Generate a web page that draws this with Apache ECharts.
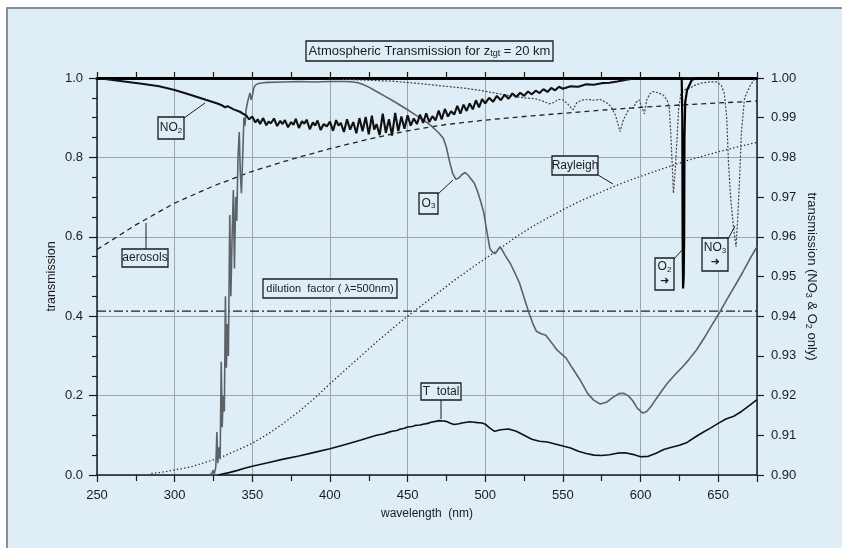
<!DOCTYPE html>
<html>
<head>
<meta charset="utf-8">
<script src="https://cdn.jsdelivr.net/npm/echarts/dist/echarts.min.js"></script>
<style>
  html, body { margin: 0; padding: 0; background: #ffffff; }
  #chart { width: 842px; height: 548px; }
</style>
</head>
<body>
<div id="chart"></div>
<script>
// ---- wavelength axis ticks (nm) and transmission ticks ----
const xTicks = [250, 300, 350, 400, 450, 500, 550, 600, 650];
const leftTicks = [0.0, 0.2, 0.4, 0.6, 0.8, 1.0];
const rightTicks = [0.90, 0.91, 0.92, 0.93, 0.94, 0.95, 0.96, 0.97, 0.98, 0.99, 1.00];

// ---- ozone transmission (left axis) [nm, T] ----
const ozone = [
  [322, 0.0], [324, 0.004], [324.8, 0.012], [325.5, 0.003], [326.5, 0.02], [327.2, 0.108],
  [327.8, 0.03], [328.5, 0.07], [329.3, 0.04], [330, 0.285], [330.6, 0.12], [331.3, 0.20],
  [332, 0.16], [332.7, 0.45], [333.3, 0.27], [334, 0.38], [334.6, 0.30], [335.5, 0.655],
  [336.2, 0.45], [337, 0.60], [337.8, 0.718], [338.5, 0.52], [339.3, 0.70], [340, 0.64],
  [340.8, 0.80], [341.6, 0.864], [342.3, 0.76], [343, 0.71], [343.8, 0.80], [344.6, 0.90],
  [345.3, 0.88], [346, 0.92], [347, 0.94], [348, 0.955], [348.5, 0.962], [349.3, 0.945],
  [350, 0.955], [351, 0.975], [352, 0.982], [354, 0.986], [357, 0.988], [360, 0.989],
  [370, 0.990], [380, 0.991], [390, 0.990], [400, 0.991], [410, 0.991], [415, 0.990],
  [418, 0.988], [421, 0.984], [425, 0.977], [430, 0.966], [435, 0.955], [440, 0.944],
  [445, 0.932], [450, 0.920], [455, 0.907], [460, 0.895], [465, 0.880], [470, 0.862],
  [473, 0.848], [475, 0.825], [477, 0.790], [479, 0.760], [481, 0.745], [483, 0.748],
  [485, 0.757], [487, 0.762], [489, 0.755], [491, 0.745], [493, 0.735], [495, 0.715],
  [497, 0.690], [499, 0.662], [501, 0.615], [503, 0.570], [505, 0.560], [506.5, 0.558],
  [508, 0.566], [509.5, 0.575], [511, 0.566], [513, 0.552], [516, 0.534], [519, 0.510],
  [522, 0.484], [525, 0.447], [528, 0.410], [531, 0.378], [533, 0.362], [536, 0.356],
  [539, 0.352], [542, 0.337], [546, 0.316], [549, 0.305], [552, 0.295], [556, 0.270],
  [561, 0.240], [566, 0.205], [570, 0.188], [574, 0.179], [578, 0.183], [582, 0.195],
  [586, 0.205], [589, 0.206], [592, 0.200], [595, 0.187], [598, 0.168], [601.5, 0.156],
  [604, 0.160], [607, 0.174], [611, 0.197], [617, 0.230], [622, 0.252], [627, 0.272],
  [631, 0.290], [636, 0.315], [641, 0.345], [646, 0.378], [651, 0.410], [656, 0.445],
  [661, 0.478], [666, 0.512], [671, 0.548], [675, 0.575]
];

// ---- aerosol extinction transmission (left axis) ----
const aerosols = [
  [250, 0.568], [275, 0.630], [300, 0.685], [325, 0.728], [350, 0.765], [375, 0.795],
  [400, 0.822], [425, 0.846], [450, 0.867], [475, 0.883], [500, 0.894], [525, 0.903],
  [550, 0.911], [575, 0.919], [600, 0.926], [625, 0.932], [650, 0.937], [675, 0.942]
];

// ---- Rayleigh scattering transmission (left axis) ----
const rayleigh = [
  [285, 0.004], [290, 0.006], [295, 0.009], [300, 0.013], [310, 0.020], [320, 0.032],
  [330, 0.045], [340, 0.062], [350, 0.080], [360, 0.103], [370, 0.130], [380, 0.160],
  [390, 0.193], [400, 0.230], [410, 0.265], [420, 0.300], [430, 0.335], [440, 0.368],
  [450, 0.400], [460, 0.430], [470, 0.460], [480, 0.490], [490, 0.518], [500, 0.545],
  [510, 0.572], [520, 0.600], [530, 0.625], [540, 0.647], [550, 0.668], [560, 0.688],
  [570, 0.705], [580, 0.722], [590, 0.738], [600, 0.752], [610, 0.766], [620, 0.779],
  [630, 0.792], [640, 0.803], [650, 0.814], [660, 0.824], [675, 0.838]
];

// ---- total transmission (left axis) ----
const tTotal = [
  [328, 0.0], [330, 0.002], [335, 0.006], [340, 0.011], [345, 0.017], [350, 0.022],
  [360, 0.031], [370, 0.040], [380, 0.048], [390, 0.057], [400, 0.066], [410, 0.077],
  [420, 0.088], [430, 0.100], [435, 0.104], [438, 0.108], [440, 0.110], [443, 0.112],
  [445, 0.115], [448, 0.118], [450, 0.121], [453, 0.122], [455, 0.125], [458, 0.126],
  [460, 0.128], [463, 0.130], [465, 0.133], [468, 0.135], [470, 0.137], [473, 0.136],
  [475, 0.135], [478, 0.130], [480, 0.127], [483, 0.129], [485, 0.131], [488, 0.133],
  [490, 0.134], [493, 0.133], [495, 0.132], [498, 0.131], [500, 0.128], [503, 0.118],
  [506, 0.110], [510, 0.114], [515, 0.116], [520, 0.110], [525, 0.100], [530, 0.090],
  [535, 0.085], [540, 0.083], [545, 0.078], [550, 0.073], [555, 0.068], [560, 0.060],
  [565, 0.054], [570, 0.050], [575, 0.049], [580, 0.051], [585, 0.055], [590, 0.056],
  [595, 0.052], [600, 0.046], [605, 0.047], [610, 0.055], [615, 0.064], [620, 0.070],
  [625, 0.075], [630, 0.082], [635, 0.095], [640, 0.107], [645, 0.118], [650, 0.130],
  [655, 0.141], [660, 0.148], [665, 0.160], [670, 0.175], [675, 0.190]
];

// ---- dilution factor at 500 nm (left axis, constant) ----
const dilutionFactor = 0.413;

// ---- NO2 transmission (right axis) ----
const no2 = [
  [250, 1.0000], [260, 0.9995], [270, 0.9990], [280, 0.9985], [290, 0.9979], [300, 0.9970],
  [310, 0.9958], [320, 0.9945], [328, 0.9935], [331, 0.9930], [332.5, 0.9926], [334, 0.9929],
  [338, 0.9921], [342, 0.9915], [344, 0.9910], [346, 0.9906], [348, 0.9896], [350, 0.9903],
  [352, 0.9888], [353.5, 0.9896], [355, 0.9884], [357, 0.9899], [359, 0.9881], [360.5, 0.9890],
  [362, 0.9886], [364, 0.9898], [366, 0.9879], [368, 0.9892], [369.5, 0.9884], [371, 0.9894],
  [373, 0.9876], [375, 0.9889], [376.5, 0.9882], [378, 0.9897], [380, 0.9874], [382, 0.9891],
  [383.5, 0.9885], [385, 0.9895], [387, 0.9871], [389, 0.9888], [390.5, 0.9880], [392, 0.9893],
  [394, 0.9869], [396, 0.9884], [398, 0.9878], [400, 0.9890], [402, 0.9867], [404, 0.9894],
  [405.5, 0.9880], [407, 0.9887], [409, 0.9864], [411, 0.9896], [413, 0.9870], [415, 0.9889],
  [417, 0.9861], [419, 0.9899], [421, 0.9866], [423, 0.9902], [425, 0.9858], [427, 0.9905],
  [428.5, 0.9870], [430, 0.9884], [432, 0.9856], [434, 0.9910], [436, 0.9862], [438, 0.9896],
  [440, 0.9855], [442, 0.9912], [444, 0.9866], [446, 0.9903], [448, 0.9872], [450, 0.9906],
  [452, 0.9880], [454, 0.9898], [456, 0.9884], [458, 0.9908], [460, 0.9887], [462, 0.9911],
  [464, 0.9889], [466, 0.9904], [468, 0.9893], [470, 0.9918], [472, 0.9896], [474, 0.9922],
  [476, 0.9903], [478, 0.9916], [480, 0.9908], [482, 0.9930], [484, 0.9910], [486, 0.9933],
  [488, 0.9917], [490, 0.9936], [492, 0.9921], [494, 0.9944], [496, 0.9926], [498, 0.9947],
  [500, 0.9936], [502.5, 0.9950], [505, 0.9940], [507.5, 0.9955], [510, 0.9944], [512.5, 0.9958],
  [515, 0.9948], [517.5, 0.9961], [520, 0.9952], [522.5, 0.9963], [525, 0.9955], [527.5, 0.9966],
  [530, 0.9959], [532.5, 0.9968], [535, 0.9962], [537.5, 0.9972], [540, 0.9965], [542.5, 0.9975],
  [545, 0.9969], [547.5, 0.9978], [550, 0.9973], [555, 0.9979], [560, 0.9978], [565, 0.9984],
  [570, 0.9983], [575, 0.9987], [580, 0.9988], [585, 0.9991], [590, 0.9995], [595, 0.9998],
  [600, 1.0000], [675, 1.0000]
];

// ---- O2 transmission (right axis) ----
const o2 = [
  [250, 1.0], [626.5, 1.0], [626.9, 0.990], [627.1, 0.960], [627.4, 0.947], [627.8, 0.950],
  [628.1, 0.960], [628.3, 0.985], [628.8, 0.994], [630, 0.997], [633, 0.9995], [636, 1.0],
  [675, 1.0]
];

// ---- NO3 transmission (right axis) ----
const no3 = [
  [380, 1.0000], [400, 0.9998], [420, 0.9995], [440, 0.9992], [455, 0.9987], [470, 0.9981],
  [485, 0.9975], [495, 0.9970], [505, 0.9963], [515, 0.9956], [525, 0.9950], [532, 0.9948],
  [537, 0.9942], [541, 0.9935], [544, 0.9938], [547, 0.9946], [550, 0.9945], [553, 0.9935],
  [556.5, 0.9920], [559, 0.9938], [562, 0.9944], [566, 0.9946], [570, 0.9944], [574, 0.9946],
  [578, 0.9938], [581, 0.9928], [584, 0.9905], [586.8, 0.9865], [589, 0.9895], [591, 0.9910],
  [593, 0.9925], [595.5, 0.9925], [597, 0.9938], [599, 0.9945], [601, 0.9925], [602.5, 0.9910],
  [604, 0.9945], [606, 0.9960], [608, 0.9966], [611, 0.9963], [614.6, 0.9957], [617, 0.9945],
  [618.5, 0.9925], [619.5, 0.9860], [620.3, 0.9790], [621.2, 0.9710], [622.2, 0.9760],
  [623.2, 0.9826], [624.5, 0.9920], [626, 0.9960], [629, 0.9972], [632, 0.9975], [635, 0.9982],
  [639, 0.9987], [644, 0.9990], [649, 0.9990], [652, 0.9982], [654, 0.9960], [655.5, 0.9900],
  [656.6, 0.9790], [658, 0.9700], [659.8, 0.9625], [661.5, 0.9575], [662.5, 0.9640],
  [663.5, 0.9720], [665, 0.9865], [667, 0.9950], [670.5, 0.9980], [673, 0.9995], [675, 1.0000]
];

const FONT = "'Liberation Sans', Arial, Helvetica, sans-serif";
const BG = '#deedf6';
const INK = '#1c1c1c';
const GRIDC = '#9ba6ad';

const chart = echarts.init(document.getElementById('chart'), null, { renderer: 'canvas' });

const xBase = {
  type: 'value',
  min: xTicks[0],
  max: 675,
  interval: xTicks[1] - xTicks[0],
  axisLine: { show: true, lineStyle: { color: INK, width: 1.5 } },
  axisTick: { show: true, inside: false, length: 7, lineStyle: { color: INK, width: 1.2 } },
  minorTick: { show: true, splitNumber: 2, length: 6, lineStyle: { color: INK, width: 1.2 } },
  splitLine: { show: false },
  minorSplitLine: { show: false }
};

// helpers for the boxed callouts
function box(x, y, w, h) {
  return { type: 'rect', shape: { x: x, y: y, width: w, height: h },
    style: { fill: BG, stroke: INK, lineWidth: 1.3 }, z: 100 };
}
function leader(x1, y1, x2, y2) {
  return { type: 'line', shape: { x1: x1, y1: y1, x2: x2, y2: y2 },
    style: { stroke: INK, lineWidth: 1 }, z: 100 };
}
function label(x, y, text, size, rich) {
  return { type: 'text', x: x, y: y, z: 101,
    style: { text: text, fill: INK, fontSize: size, fontFamily: FONT,
      textAlign: 'center', textVerticalAlign: 'middle', align: 'center', verticalAlign: 'middle',
      rich: rich || {} } };
}
function arrow(x, y) {
  return { type: 'text', x: x, y: y, z: 101,
    style: { text: '\u279C', fill: INK, fontSize: 11, fontWeight: 'bold', fontFamily: "'DejaVu Sans', sans-serif",
      textAlign: 'center', textVerticalAlign: 'middle', align: 'center', verticalAlign: 'middle' } };
}
const subRich = function (size) {
  return {
    a: { fontSize: size, fontFamily: FONT, color: INK },
    s: { fontSize: Math.round(size * 0.68), fontFamily: FONT, color: INK, padding: [Math.round(size * 0.45), 0, 0, 0] }
  };
};

const option = {
  animation: false,
  backgroundColor: BG,
  grid: { left: 97, right: 85, top: 78, bottom: 73, containLabel: false },
  xAxis: [
    Object.assign({}, xBase, {
      position: 'bottom',
      name: 'wavelength  (nm)',
      nameLocation: 'middle',
      nameGap: 33,
      nameTextStyle: { fontSize: 12, fontFamily: FONT, color: INK },
      axisLabel: { show: true, margin: 14, fontSize: 13, fontFamily: FONT, color: INK, showMaxLabel: false },
      splitLine: { show: true, lineStyle: { color: GRIDC, width: 1 } }
    }),
    Object.assign({}, xBase, {
      position: 'top',
      axisLine: { show: true, lineStyle: { color: '#000', width: 3 } },
      axisTick: { show: true, inside: false, length: 6, lineStyle: { color: INK, width: 1.2 } },
      axisLabel: { show: false }
    })
  ],
  yAxis: [
    {
      type: 'value', position: 'left',
      min: leftTicks[0], max: leftTicks[leftTicks.length - 1],
      interval: leftTicks[1] - leftTicks[0],
      name: 'transmission', nameLocation: 'middle', nameGap: 39, nameMoveOverlap: false,
      nameTextStyle: { fontSize: 12.5, fontFamily: FONT, color: INK },
      axisLine: { show: true, lineStyle: { color: INK, width: 1.5 } },
      axisTick: { show: true, inside: false, length: 8, lineStyle: { color: INK, width: 1.2 } },
      minorTick: { show: true, splitNumber: 4, length: 5, lineStyle: { color: INK, width: 1.2 } },
      axisLabel: { margin: 14, fontSize: 13, fontFamily: FONT, color: INK,
        formatter: function (v) { return v.toFixed(1); } },
      splitLine: { show: true, lineStyle: { color: GRIDC, width: 1 } }
    },
    {
      type: 'value', position: 'right',
      min: rightTicks[0], max: rightTicks[rightTicks.length - 1],
      interval: 0.01,
      name: '{a|transmission (NO}{s|3}{a| & O}{s|2}{a| only)}',
      nameLocation: 'middle', nameGap: 47, nameRotate: -90, nameMoveOverlap: false,
      nameTextStyle: { fontSize: 13, fontFamily: FONT, color: INK, rich: subRich(13) },
      axisLine: { show: true, lineStyle: { color: INK, width: 1.5 } },
      axisTick: { show: true, inside: false, length: 7, lineStyle: { color: INK, width: 1.2 } },
      axisLabel: { margin: 14, fontSize: 13, fontFamily: FONT, color: INK,
        formatter: function (v) { return v.toFixed(2); } },
      splitLine: { show: false }
    }
  ],
  series: [
    { name: 'Rayleigh', type: 'line', data: rayleigh, yAxisIndex: 0, showSymbol: false, symbol: 'none',
      lineStyle: { color: '#222', width: 1.3, type: [1.3, 2.4] }, z: 3 },
    { name: 'aerosols', type: 'line', data: aerosols, yAxisIndex: 0, showSymbol: false, symbol: 'none',
      lineStyle: { color: '#222', width: 1.3, type: [5, 4] }, z: 3 },
    { name: 'dilution', type: 'line', data: [[250, dilutionFactor], [675, dilutionFactor]], yAxisIndex: 0,
      showSymbol: false, symbol: 'none',
      lineStyle: { color: '#222', width: 1.3, type: [9, 3, 2, 3] }, z: 3 },
    { name: 'NO3', type: 'line', data: no3, yAxisIndex: 1, showSymbol: false, symbol: 'none',
      lineStyle: { color: '#444', width: 1.2, type: [2, 1.6] }, z: 4 },
    { name: 'O3', type: 'line', data: ozone, yAxisIndex: 0, showSymbol: false, symbol: 'none',
      lineStyle: { color: '#5d6266', width: 1.6 }, z: 5 },
    { name: 'T total', type: 'line', data: tTotal, yAxisIndex: 0, showSymbol: false, symbol: 'none',
      lineStyle: { color: '#111', width: 1.6 }, z: 6 },
    { name: 'NO2', type: 'line', data: no2, yAxisIndex: 1, showSymbol: false, symbol: 'none',
      lineStyle: { color: '#111', width: 2.1 }, z: 7 },
    { name: 'O2', type: 'line', data: o2, yAxisIndex: 1, showSymbol: false, symbol: 'none',
      lineStyle: { color: '#000', width: 2.2 }, z: 8 }
  ],
  graphic: [
    // page frame
    { type: 'rect', shape: { x: 0, y: 0, width: 842, height: 7 }, style: { fill: '#ffffff' }, z: 90 },
    { type: 'rect', shape: { x: 0, y: 0, width: 6, height: 548 }, style: { fill: '#ffffff' }, z: 90 },
    { type: 'line', shape: { x1: 6, y1: 8, x2: 842, y2: 8 }, style: { stroke: '#8a8f93', lineWidth: 2 }, z: 91 },
    { type: 'line', shape: { x1: 7, y1: 8, x2: 7, y2: 548 }, style: { stroke: '#8a8f93', lineWidth: 2 }, z: 91 },

    // title
    box(306, 41, 247, 20),
    label(429.5, 51, '{a|Atmospheric Transmission for z}{s|tgt}{a| = 20 km}', 13, subRich(13)),

    // NO2
    box(158, 117, 26, 22),
    label(171, 128, '{a|NO}{s|2}', 12, subRich(12)),
    leader(184, 118, 205, 103),

    // aerosols
    box(122, 249, 46, 18),
    label(145, 258, 'aerosols', 12),
    leader(146, 249, 146, 223),

    // O3
    box(419, 193, 19, 21),
    label(428.5, 203.5, '{a|O}{s|3}', 12, subRich(12)),
    leader(438, 194, 453, 180),

    // Rayleigh
    box(552, 156, 46, 19),
    label(575, 165.5, 'Rayleigh', 12),
    leader(598, 175, 613, 184),

    // O2 (right axis)
    box(655, 258, 19, 32),
    label(664.5, 267, '{a|O}{s|2}', 12, subRich(12)),
    arrow(664.5, 281),
    leader(674, 259, 682, 250),

    // NO3 (right axis)
    box(702, 238, 26, 33),
    label(715, 248, '{a|NO}{s|3}', 12, subRich(12)),
    arrow(715, 262),
    leader(728, 239, 735, 226),

    // dilution factor
    box(263, 279, 134, 19),
    label(330, 288.5, 'dilution  factor ( \u03BB=500nm)', 11),

    // T total
    box(421, 383, 40, 17),
    label(441, 391.5, 'T  total', 12),
    leader(441, 400, 441, 419)
  ]
};

chart.setOption(option);
</script>
</body>
</html>
